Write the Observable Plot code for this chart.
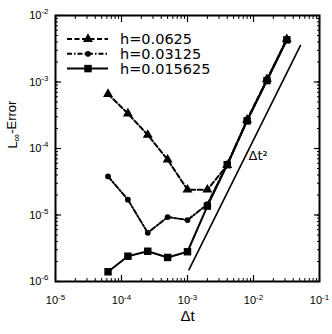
<!DOCTYPE html>
<html>
<head>
<meta charset="utf-8">
<script src="https://cdn.jsdelivr.net/npm/d3@7"></script>
<script src="https://cdn.jsdelivr.net/npm/@observablehq/plot@0.6"></script>
<style>
  html, body { margin: 0; padding: 0; background: white; }
  #chart { width: 332px; height: 334px; }
</style>
</head>
<body>
<div id="chart"></div>
<script>
// ---- data ----
const dt = [6.25e-5, 1.25e-4, 2.5e-4, 5e-4, 1e-3, 2e-3, 4e-3, 8e-3, 1.6e-2, 3.2e-2];
const errH0625   = [6.6e-4, 3.35e-4, 1.6e-4, 6.8e-5, 2.4e-5, 2.4e-5, 5.6e-5, 2.7e-4, 1.1e-3, 4.4e-3];
const errH03125  = [3.8e-5, 1.7e-5, 5.4e-6, 9.3e-6, 8.4e-6, 1.45e-5, 5.8e-5, 2.65e-4, 1.07e-3, 4.35e-3];
const errH015625 = [1.4e-6, 2.4e-6, 2.85e-6, 2.3e-6, 2.8e-6, 1.36e-5, 5.7e-5, 2.6e-4, 1.05e-3, 4.3e-3];
const seriesNames = ["h=0.0625", "h=0.03125", "h=0.015625"];
const slopeDt = [1.05e-3, 0.0515];
const slopeErr = [1.5e-6, 3.55e-3];
const slopeLabel = "Δt²";
const slopeLabelAt = [8.4e-3, 6.7e-5];
const xTicks = [1e-5, 1e-4, 1e-3, 1e-2, 1e-1];
const yTicks = [1e-6, 1e-5, 1e-4, 1e-3, 1e-2];
const xLabel = "Δt";
const yLabel = "L∞-Error";

// ---- build tables ----
const allErr = [errH0625, errH03125, errH015625];
const styles = [
  {symbol: "triangle", r: 3.7, dash: "5,2.5"},
  {symbol: "circle", r: 2.9, dash: "5,2,1.5,2"},
  {symbol: "square", r: 4.2, dash: null}
];
const tables = allErr.map((errs, i) => dt.map((d, j) => ({dt: d, err: errs[j], series: seriesNames[i]})));
const slopeData = slopeDt.map((d, i) => ({dt: d, err: slopeErr[i]}));
const minorX = d3.scaleLog().domain([1e-5, 1e-1]).ticks();
const minorY = d3.scaleLog().domain([1e-6, 1e-2]).ticks();
const fmt = d => "10^" + Math.round(Math.log10(d));

const marks = [];
tables.forEach((t, i) => {
  marks.push(Plot.line(t, {x: "dt", y: "err", stroke: "black", strokeWidth: 2,
    strokeDasharray: styles[i].dash || undefined}));
  marks.push(Plot.dot(t, {x: "dt", y: "err", symbol: () => styles[i].symbol, r: styles[i].r,
    fill: "black", stroke: "none"}));
});
marks.push(Plot.line(slopeData, {x: "dt", y: "err", stroke: "black", strokeWidth: 1.6}));
marks.push(Plot.text([slopeLabel], {x: () => slopeLabelAt[0], y: () => slopeLabelAt[1], text: d => d,
  textAnchor: "start", lineAnchor: "bottom", fontSize: 13, fontFamily: "DejaVu Sans"}));

// ticks (inward) on all sides
for (const anchor of ["bottom", "top"]) {
  marks.push(Plot.axisX(minorX, {anchor, tickSize: -3, tickFormat: () => "", strokeWidth: 1, label: null}));
  marks.push(Plot.axisX(xTicks, {anchor, tickSize: -6, tickFormat: () => "", strokeWidth: 1.2, label: null}));
}
for (const anchor of ["left", "right"]) {
  marks.push(Plot.axisY(minorY, {anchor, tickSize: -3, tickFormat: () => "", strokeWidth: 1, label: null}));
  marks.push(Plot.axisY(yTicks, {anchor, tickSize: -6, tickFormat: () => "", strokeWidth: 1.2, label: null}));
}
marks.push(Plot.axisX(xTicks, {anchor: "bottom", tickSize: 0, tickPadding: 15, tickFormat: fmt, fontSize: 11, label: null}));
marks.push(Plot.axisY(yTicks, {anchor: "left", tickSize: 0, tickPadding: 7, tickFormat: fmt, fontSize: 11, label: null}));
marks.push(Plot.text([xLabel], {frameAnchor: "bottom", dy: 39, text: d => d, fontSize: 15}));
marks.push(Plot.text([yLabel], {frameAnchor: "left", dx: -43, rotate: -90, text: d => d, fontSize: 13}));
marks.push(Plot.frame({stroke: "black", strokeWidth: 2}));

const svg = Plot.plot({
  width: 332, height: 334,
  marginLeft: 55, marginRight: 13, marginTop: 15, marginBottom: 53,
  x: {type: "log", domain: [1e-5, 1e-1], axis: null, label: null},
  y: {type: "log", domain: [1e-6, 1e-2], axis: null, label: null},
  style: {fontFamily: "'Liberation Sans', Arial, sans-serif", fontSize: "11px", color: "black", background: "white"},
  marks
});

// superscripts on tick labels, subscript on L∞
d3.select(svg).selectAll("text").each(function() {
  const t = this.textContent;
  const m = t.match(/^10\^(-?\d+)$/);
  const el = d3.select(this);
  if (m) {
    el.text(null);
    el.append("tspan").text("10");
    el.append("tspan").attr("dy", "-0.6em").attr("font-size", "0.72em").text(m[1]);
  } else if (t === yLabel) {
    el.text(null);
    el.append("tspan").text("L");
    el.append("tspan").attr("dy", "0.35em").attr("font-size", "0.8em").text("∞");
    el.append("tspan").attr("dy", "-0.35em").text("-Error");
  }
});

// legend inside the frame (top-left)
const lg = d3.select(svg).append("g").attr("transform", "translate(67,39)");
seriesNames.forEach((name, i) => {
  const g = lg.append("g").attr("transform", `translate(0,${i * 14.8})`);
  g.append("line").attr("x1", 0).attr("x2", 41).attr("y1", 0).attr("y2", 0)
    .attr("stroke", "black").attr("stroke-width", 2)
    .attr("stroke-dasharray", styles[i].dash || null);
  const sym = {triangle: d3.symbolTriangle, circle: d3.symbolCircle, square: d3.symbolSquare}[styles[i].symbol];
  g.append("path").attr("transform", "translate(21,0)")
    .attr("d", d3.symbol(sym, Math.PI * styles[i].r * styles[i].r)()).attr("fill", "black");
  g.append("text").attr("x", 53).attr("y", 0).attr("dy", "0.35em").attr("text-anchor", "start")
    .attr("font-family", "DejaVu Sans").attr("font-size", 14.5).attr("fill", "black").text(name);
});

document.getElementById("chart").appendChild(svg);
</script>
</body>
</html>
